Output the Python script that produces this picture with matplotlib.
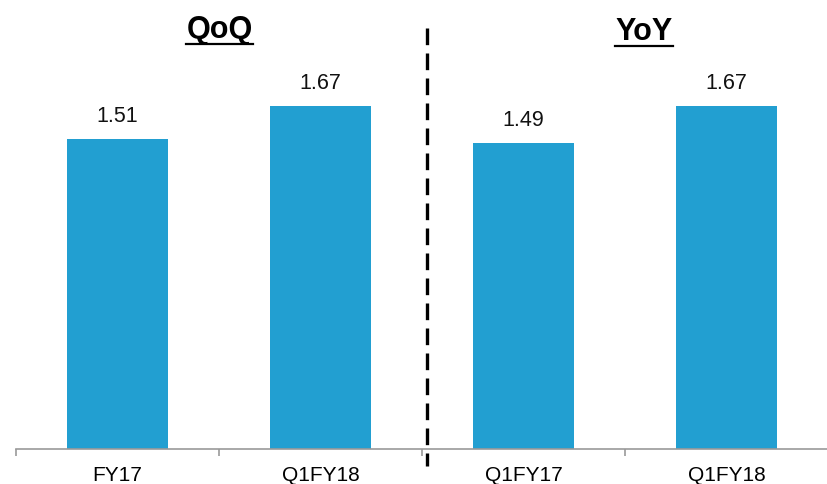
import matplotlib
matplotlib.use("Agg")
import matplotlib.pyplot as plt
from matplotlib.lines import Line2D

categories = ["FY17", "Q1FY18", "Q1FY17", "Q1FY18"]
values = [1.51, 1.67, 1.49, 1.67]
group_titles = ["QoQ", "YoY"]

plt.rcParams['font.family'] = ['Liberation Sans', 'DejaVu Sans']

W, H = 828, 484
base_y = 449.3  # pixel row of the x axis line

fig = plt.figure(figsize=(W / 100, H / 100), dpi=100)
ax = fig.add_axes([16 / W, (H - base_y) / H, (W - 16) / W, base_y / H])

x = list(range(len(values)))
ax.bar(x, values, width=0.5, color='#229fd1')

for xi, v in zip(x, values):
    ax.annotate(f"{v:.2f}", (xi, v), xytext=(0, 12), textcoords='offset points',
                ha='center', va='baseline', fontsize=15.5, color='#111111')

ax.set_xlim(-0.5, -0.5 + (W - 16) / 206.7)
ax.set_ylim(0, base_y / 205.5)

for s in ['top', 'right', 'left']:
    ax.spines[s].set_visible(False)
ax.spines['bottom'].set_color('#999999')
ax.spines['bottom'].set_linewidth(1.2)
ax.set_yticks([])

ax.set_xticks([-0.5, 0.5, 1.5, 2.5, 3.5])
ax.set_xticklabels([])
ax.tick_params(axis='x', which='major', length=5, color='#999999', width=1.2)
ax.set_xticks(x, minor=True)
ax.set_xticklabels(categories, minor=True, fontsize=15)
ax.tick_params(axis='x', which='minor', length=0, pad=12)

# dashed divider between the two groups
fig.add_artist(Line2D([427 / W, 427 / W], [1 - 28 / H, 1 - 466 / H],
                      color='black', linewidth=2.4, linestyle=(0, (5, 2.5))))

# underlined group titles
titles = []
for t, cx, by in zip(group_titles, [219.5, 644], [38, 40]):
    titles.append((fig.text(cx / W, 1 - by / H, t, ha='center', va='baseline',
                            fontsize=22, fontweight='bold'), by))
fig.canvas.draw()
inv = fig.transFigure.inverted()
for txt, by in titles:
    bb = txt.get_window_extent().transformed(inv)
    y_ul = 1 - (by + 5.5) / H
    fig.add_artist(Line2D([bb.x0, bb.x1], [y_ul, y_ul], color='black', linewidth=1.6))

fig.savefig("out.png", dpi=100)
